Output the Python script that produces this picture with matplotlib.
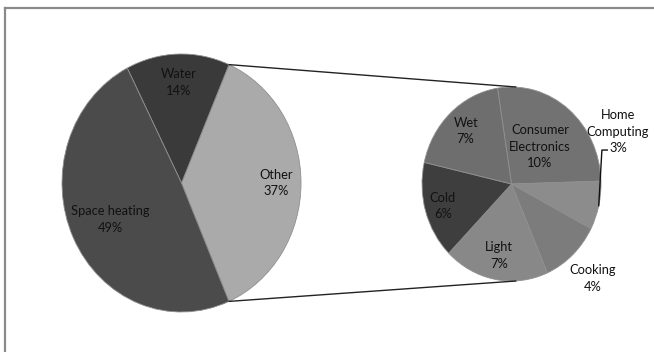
import numpy as np
import matplotlib
matplotlib.use('Agg')
import matplotlib.pyplot as plt
from matplotlib.patches import ConnectionPatch
from matplotlib.lines import Line2D

plt.rcParams['font.family'] = ['Lato', 'DejaVu Sans']

# main breakdown
main_labels = ['Other', 'Water', 'Space heating']
main_values = [37, 14, 49]
main_colors = ['#aaaaaa', '#3a3a3a', '#4b4b4b']

# breakdown of "Other"
sub_labels = ['Consumer\nElectronics', 'Home\nComputing', 'Cooking', 'Light', 'Cold', 'Wet']
sub_values = [10, 3, 4, 7, 6, 7]
sub_colors = ['#727272', '#8c8c8c', '#7c7c7c', '#888888', '#3e3e3e', '#6e6e6e']

W, H = 654, 352
fig = plt.figure(figsize=(W / 100, H / 100), dpi=100)

def px_axes(x0, y0, x1, y1):
    # axes box given in pixel coords (origin top-left)
    return fig.add_axes([x0 / W, 1 - y1 / H, (x1 - x0) / W, (y1 - y0) / H])

ax1 = px_axes(62, 54, 301, 312)
ax2 = px_axes(422, 87, 601, 281)

edge = dict(edgecolor='#8f8f8f', linewidth=0.6)
w1, _ = ax1.pie(main_values, colors=main_colors, startangle=-main_values[0] * 1.8,
                radius=1, wedgeprops=edge)
w2, _ = ax2.pie(sub_values, colors=sub_colors, startangle=99, counterclock=False,
                radius=1, wedgeprops=edge)

for ax in (ax1, ax2):
    ax.set_aspect('auto')
    ax.set_xlim(-1, 1)
    ax.set_ylim(-1, 1)
    ax.axis('off')

txt = dict(ha='center', va='center', fontsize=9.3, linespacing=1.45, color='#111111',
           clip_on=False)

def put_label(ax, wedge, text, dist):
    mid = np.deg2rad((wedge.theta1 + wedge.theta2) / 2)
    ax.text(dist * np.cos(mid), dist * np.sin(mid), text, **txt)
    return mid

main_dist = [0.79, 0.78, 0.66]
for wd, lab, val, d in zip(w1, main_labels, main_values, main_dist):
    put_label(ax1, wd, f'{lab}\n{val}%', d)

sub_dist = [0.5, None, 1.33, 0.75, 0.8, 0.75]
for wd, lab, val, d in zip(w2, sub_labels, sub_values, sub_dist):
    if d is None:
        continue
    put_label(ax2, wd, f'{lab}\n{val}%', d)

# Home Computing sits outside with a leader line
hc = w2[1]
mid = np.deg2rad((hc.theta1 + hc.theta2) / 2)
ax2.plot([np.cos(mid), 1.01, 1.07], [np.sin(mid), 0.35, 0.35], color='#111111',
         lw=1.0, clip_on=False)
ax2.text(1.19, 0.54, f'{sub_labels[1]}\n{sub_values[1]}%', **txt)

# connector lines from the "Other" slice to the secondary pie
other = w1[0]
for ang, y2 in ((other.theta2, 1), (other.theta1, -1)):
    a = np.deg2rad(ang)
    con = ConnectionPatch(xyA=(np.cos(a), np.sin(a)), coordsA=ax1.transData,
                          xyB=(0.05, y2), coordsB=ax2.transData,
                          color='#222222', lw=1.0)
    fig.add_artist(con)

# chart area border (top and left edges visible)
fig.add_artist(Line2D([5 / W, 5 / W], [0, 1 - 8 / H], transform=fig.transFigure,
                      color='#8a8a8a', lw=1.6))
fig.add_artist(Line2D([5 / W, 1], [1 - 8 / H, 1 - 8 / H], transform=fig.transFigure,
                      color='#8a8a8a', lw=1.6))

fig.savefig('out.png', dpi=100)
